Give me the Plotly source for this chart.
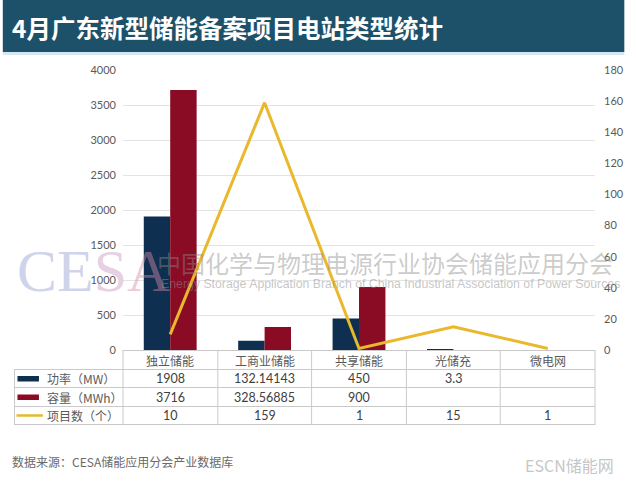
import plotly.graph_objects as go

categories = ["独立储能", "工商业储能", "共享储能", "光储充", "微电网"]
power_mw = [1908, 132.14143, 450, 3.3, None]
capacity_mwh = [3716, 328.56885, 900, None, None]
project_count = [10, 159, 1, 15, 1]
power_labels = ["1908", "132.14143", "450", "3.3", ""]
capacity_labels = ["3716", "328.56885", "900", "", ""]
count_labels = ["10", "159", "1", "15", "1"]
series_names = ["功率（MW）", "容量（MWh）", "项目数（个）"]

W, H = 636, 481
L, R, T, B = 123, 606, 70, 350

NAVY = "#0e2f4f"
RED = "#8a0b24"
YEL = "#e9b82c"
GRID = "#e3e3e3"
TXT = "#595959"
CJK = "Noto Sans CJK SC"
NUM = "Lato, 'Noto Sans CJK SC'"


def px(x):
    return (x - L) / (R - L)


def py(y):
    return (B - y) / (B - T)


fig = go.Figure()
fig.add_trace(go.Bar(x=categories, y=power_mw, name=series_names[0],
                     marker=dict(color=NAVY, line=dict(width=0))))
fig.add_trace(go.Bar(x=categories, y=capacity_mwh, name=series_names[1],
                     marker=dict(color=RED, line=dict(width=0))))
fig.add_trace(go.Scatter(x=categories, y=project_count, name=series_names[2],
                         mode="lines", line=dict(color=YEL, width=3),
                         yaxis="y2"))

shapes = []
annotations = []

# title bar
shapes.append(dict(type="rect", xref="paper", yref="paper",
                   x0=px(0), x1=px(W), y0=py(0), y1=py(52),
                   fillcolor="#1d5169", line=dict(width=0), layer="below"))
shapes.append(dict(type="rect", xref="paper", yref="paper",
                   x0=px(0), x1=px(W), y0=py(52), y1=py(55),
                   fillcolor="#d6e6f2", line=dict(width=0), layer="below"))
annotations.append(dict(xref="paper", yref="paper", x=px(7), y=py(27),
                        xanchor="left", yanchor="middle", showarrow=False,
                        text="<b>4月广东新型储能备案项目电站类型统计</b>",
                        font=dict(family=CJK, size=24.5, color="white")))

# table lines
rows_y = [350.5, 369.5, 387.5, 406.5, 424.5]
LINEC = "#c9c9c9"
for i, yy in enumerate(rows_y):
    x0 = L if i == 0 else 12
    shapes.append(dict(type="rect", xref="paper", yref="paper",
                       x0=px(x0), x1=px(R), y0=py(yy - 0.5), y1=py(yy + 0.5),
                       fillcolor=LINEC, line=dict(width=0)))
ncat = len(categories)
for k in range(ncat + 1):
    xx = round(L + k * (R - L) / ncat)
    shapes.append(dict(type="rect", xref="paper", yref="paper",
                       x0=px(xx - 0.5), x1=px(xx + 0.5), y0=py(350), y1=py(425),
                       fillcolor=LINEC, line=dict(width=0)))
shapes.append(dict(type="rect", xref="paper", yref="paper",
                   x0=px(11.5), x1=px(12.5), y0=py(369), y1=py(425),
                   fillcolor=LINEC, line=dict(width=0)))

# header labels
for k, c in enumerate(categories):
    xc = (k + 0.5) / ncat
    annotations.append(dict(xref="paper", yref="paper", x=xc, y=py(360),
                            xanchor="center", yanchor="middle",
                            showarrow=False, text=c,
                            font=dict(family=CJK, size=12, color=TXT)))

row_labels = [power_labels, capacity_labels, count_labels]
for r in range(3):
    yc = (rows_y[r + 1] + rows_y[r + 2]) / 2
    for k in range(ncat):
        xc = (k + 0.5) / ncat
        if row_labels[r][k]:
            annotations.append(dict(xref="paper", yref="paper", x=xc, y=py(yc),
                                    xanchor="center", yanchor="middle",
                                    showarrow=False, text=row_labels[r][k],
                                    font=dict(family=NUM, size=12.5, color="#404040")))
    annotations.append(dict(xref="paper", yref="paper", x=px(43), y=py(yc),
                            xanchor="left", yanchor="middle",
                            showarrow=False, text=series_names[r],
                            font=dict(family=CJK, size=12, color=TXT)))

# legend keys
shapes.append(dict(type="rect", xref="paper", yref="paper",
                   x0=px(15), x1=px(37), y0=py(381.5), y1=py(376),
                   fillcolor=NAVY, line=dict(width=0)))
shapes.append(dict(type="rect", xref="paper", yref="paper",
                   x0=px(15), x1=px(37), y0=py(400), y1=py(394.5),
                   fillcolor=RED, line=dict(width=0)))
shapes.append(dict(type="line", xref="paper", yref="paper",
                   x0=px(14), x1=px(41), y0=py(415.5), y1=py(415.5),
                   line=dict(color=YEL, width=2.5)))

# watermark
annotations.append(dict(xref="paper", yref="paper", x=px(12), y=py(271),
                        xanchor="left", yanchor="middle", showarrow=False,
                        text="<span style='color:rgba(150,160,210,0.45)'>CE</span>"
                             "<span style='color:rgba(200,150,190,0.45)'>S</span>"
                             "<span style='color:rgba(215,140,170,0.45)'>A</span>",
                        font=dict(family="Liberation Serif", size=60)))
annotations.append(dict(xref="paper", yref="paper", x=px(156), y=py(262),
                        xanchor="left", yanchor="middle", showarrow=False,
                        text="中国化学与物理电源行业协会储能应用分会",
                        font=dict(family=CJK, size=24, color="rgba(140,140,140,0.45)")))
annotations.append(dict(xref="paper", yref="paper", x=px(160), y=py(284),
                        xanchor="left", yanchor="middle", showarrow=False,
                        text="Energy Storage Application Branch of China Industrial Association of Power Sources",
                        font=dict(family="Liberation Sans", size=12.3, color="rgba(140,140,140,0.5)")))

# footer
annotations.append(dict(xref="paper", yref="paper", x=px(7), y=py(461),
                        xanchor="left", yanchor="middle", showarrow=False,
                        text="数据来源：CESA储能应用分会产业数据库",
                        font=dict(family=CJK, size=12, color="#6a6a6a")))
annotations.append(dict(xref="paper", yref="paper", x=px(628), y=py(465),
                        xanchor="right", yanchor="middle", showarrow=False,
                        text="ESCN储能网",
                        font=dict(family=CJK, size=16, color="rgba(190,190,190,0.9)")))

fig.update_layout(
    width=W, height=H,
    margin=dict(l=L, r=W - R, t=T, b=H - B, pad=0),
    paper_bgcolor="white", plot_bgcolor="white",
    barmode="group", bargap=0.44, bargroupgap=0,
    showlegend=False,
    font=dict(family=NUM, color=TXT, size=11),
    xaxis=dict(showticklabels=False, showgrid=False, zeroline=False,
               showline=False, ticks=""),
    yaxis=dict(range=[0, 4000], dtick=500, showgrid=True, gridcolor=GRID,
               zeroline=False, showline=False, ticks="", ticklabelstandoff=6,
               tickfont=dict(family=NUM, size=11, color=TXT)),
    yaxis2=dict(range=[0, 180], dtick=20, overlaying="y", side="right",
                showgrid=False, zeroline=False, showline=False, ticks="",
                ticklabelstandoff=8,
                tickfont=dict(family=NUM, size=11, color=TXT)),
    shapes=shapes,
    annotations=annotations,
)

fig.write_html("out.html")
